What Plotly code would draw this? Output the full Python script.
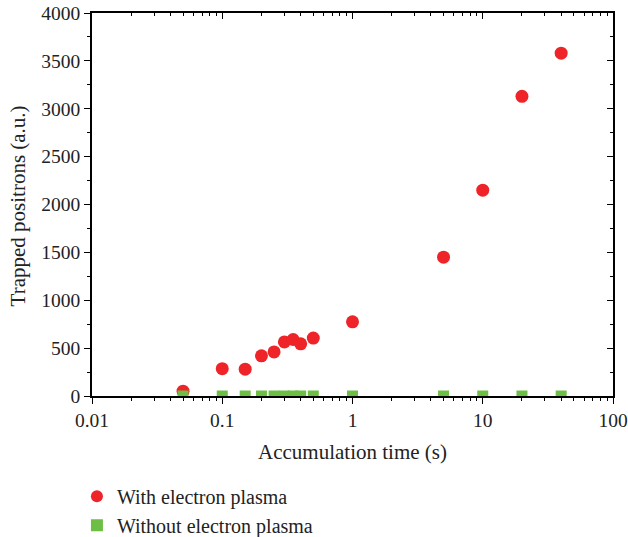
import plotly.graph_objects as go

time_s = [0.05, 0.1, 0.15, 0.2, 0.25, 0.3, 0.35, 0.4, 0.5, 1, 5, 10, 20, 40]
with_plasma = [50, 285, 280, 420, 460, 565, 590, 545, 605, 775, 1450, 2150, 3130, 3580]
without_plasma = [0, 0, 0, 0, 0, 0, 0, 0, 0, 0, 0, 0, 0, 0]
x_tickvals = [0.01, 0.1, 1, 10, 100]
x_ticktext = ["0.01", "0.1", "1", "10", "100"]
x_minor_vals = [m * d for d in [0.01, 0.1, 1, 10] for m in range(2, 10)]
y_tickvals = [0, 500, 1000, 1500, 2000, 2500, 3000, 3500, 4000]
x_title = "Accumulation time (s)"
y_title = "Trapped positrons (a.u.)"

FONT = "Liberation Serif"

fig = go.Figure()
fig.add_trace(go.Scatter(
    x=time_s, y=with_plasma, mode="markers", name="With electron plasma",
    marker=dict(symbol="circle", size=13, color="#EE2428", line=dict(width=0)),
))
fig.add_trace(go.Scatter(
    x=time_s, y=without_plasma, mode="markers", name="Without electron plasma",
    marker=dict(symbol="square", size=11, color="#6CBE45", line=dict(width=0)),
))
# invisible trace to anchor mirrored (top/right) axes with inward ticks
fig.add_trace(go.Scatter(x=[time_s[0]], y=[with_plasma[0]], xaxis="x2", yaxis="y2",
                         mode="markers", marker=dict(opacity=0), showlegend=False,
                         hoverinfo="skip"))

axis_common = dict(showgrid=False, zeroline=False, showline=True, linecolor="black",
                   linewidth=1.6, tickcolor="black", tickwidth=1, automargin=False)

x_minor_out = dict(tickmode="array", tickvals=x_minor_vals, ticks="outside", ticklen=3,
                   tickcolor="black", showgrid=False)
x_minor_in = dict(tickmode="array", tickvals=x_minor_vals, ticks="inside", ticklen=3,
                  tickcolor="black", showgrid=False)

fig.update_layout(
    width=628, height=537,
    margin=dict(l=92, r=15, t=13, b=141, autoexpand=False),
    plot_bgcolor="white", paper_bgcolor="white",
    font=dict(family=FONT, size=19.5, color="#222222"),
    xaxis=dict(type="log", range=[-2, 2], tickvals=x_tickvals, ticktext=x_ticktext,
               ticks="outside", ticklen=6, minor=x_minor_out, **axis_common),
    yaxis=dict(range=[0, 4000], tickvals=y_tickvals, ticks="outside", ticklen=6,
               minor=dict(ticks="outside", ticklen=3, dtick=250, tickcolor="black", showgrid=False),
               **axis_common),
    xaxis2=dict(type="log", range=[-2, 2], overlaying="x", side="top", tickvals=x_tickvals,
                showticklabels=False, ticks="inside", ticklen=6, minor=x_minor_in,
                **axis_common),
    yaxis2=dict(range=[0, 4000], overlaying="y", side="right", tickvals=y_tickvals,
                showticklabels=False, ticks="inside", ticklen=6,
                minor=dict(ticks="inside", ticklen=3, dtick=250, tickcolor="black", showgrid=False),
                **axis_common),
    legend=dict(xref="container", yref="container", x=0.1225, y=0.112,
                xanchor="left", yanchor="top",
                font=dict(size=20, family=FONT), bgcolor="rgba(0,0,0,0)",
                itemsizing="constant", tracegroupgap=0),
    showlegend=True,
    annotations=[
        dict(text=x_title, xref="paper", yref="paper", x=0.5, y=-0.146,
             xanchor="center", yanchor="middle", showarrow=False, font=dict(size=21)),
        dict(text=y_title, xref="paper", yref="paper", x=-0.142, y=0.495, textangle=-90,
             xanchor="center", yanchor="middle", showarrow=False, font=dict(size=21)),
    ],
)

fig.write_html("out.html", config={"displayModeBar": False},
               post_script="document.body.style.margin='0';document.body.style.overflow='hidden';")
